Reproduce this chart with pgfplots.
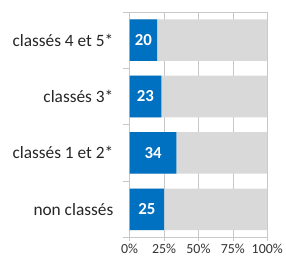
\documentclass[border=0pt]{standalone}
\usepackage{fontspec}
\setmainfont{Carlito}
\usepackage{pgfplots}
\pgfplotsset{compat=1.18}
\definecolor{bblue}{HTML}{0070C0}
\definecolor{bgray}{HTML}{D9D9D9}
\definecolor{gline}{HTML}{C8C8C8}
\begin{document}
\begin{tikzpicture}
\begin{axis}[name=ax, scale only axis, width=139bp, height=228bp,
  /pgf/number format/assume math mode=true,
  xbar, bar width=42bp, bar shift=0pt,
  xmin=0, xmax=100, ymin=-0.5, ymax=3.5,
  xtick={0,25,50,75,100}, xticklabels={0\%,25\%,50\%,75\%,100\%},
  ytick={0,1,2,3}, yticklabels={non classés, classés 1 et 2*, classés 3*, classés 4 et 5*},
  minor ytick={-0.5,0.5,1.5,2.5,3.5},
  xtick pos=bottom, ytick pos=left,
  tick align=outside, major tick length=3bp, minor tick length=7bp,
  major y tick style={draw=none},
  minor y tick style={draw=gline, line width=0.6pt},
  major x tick style={draw=gline, line width=0.6pt},
  xmajorgrids, major x grid style={draw=gline, line width=0.6pt},
  axis line style={draw=gline, line width=0.6pt},
  x tick label style={font=\fontsize{14bp}{16bp}\selectfont, text=black!80},
  y tick label style={font=\fontsize{17.5bp}{20bp}\selectfont, text=black!85, xshift=-10bp},
]
\addplot[fill=bgray, draw=none] coordinates {(100,0) (100,1) (100,2) (100,3)};
\addplot[fill=bblue, draw=none, nodes near coords, point meta=x,
  visualization depends on={x \as \rawx},
  every node near coord/.append style={anchor=center, text=white,
    font=\bfseries\fontsize{17bp}{20bp}\selectfont,
    shift={(axis direction cs:-\rawx/2,0)}}]
  coordinates {(25,0) (34,1) (23,2) (20,3)};
\end{axis}
\path ([xshift=-131bp,yshift=-22bp]ax.south west) ([xshift=16bp,yshift=12bp]ax.north east);
\end{tikzpicture}
\end{document}
